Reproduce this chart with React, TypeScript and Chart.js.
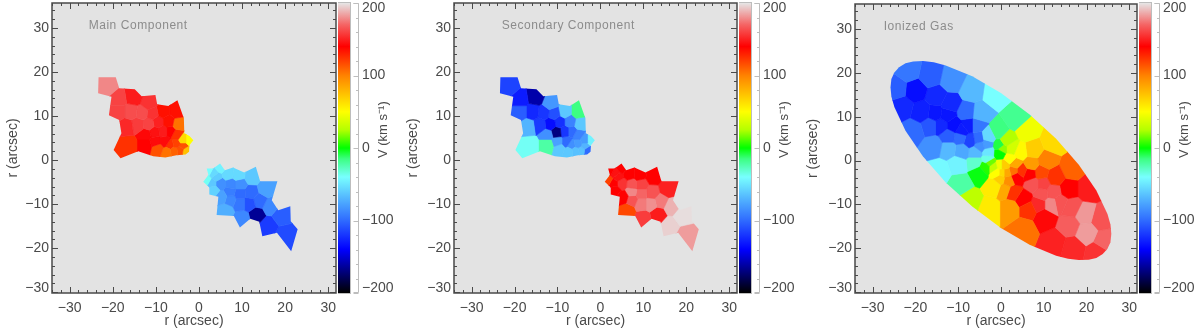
import React, { useEffect, useRef } from "react";
import { Chart, registerables } from "chart.js";

Chart.register(...registerables);

const FONT = "'Liberation Sans', Arial, sans-serif";
const INK = "#4a4a4a";

// Tessellation bins shared by the two stellar components: centres (arcsec) and velocities (km/s)
const stellarBinX = [-21.3,-18.8,-15.1,-11.6,-18.8,-15.7,-13.2,-10.8,-8.3,-5.2,-16.8,-14.1,-11.6,-9.5,-7.1,-4.8,-16.4,-12.4,-12.4,-10.2,-8.3,-6.7,-10,-7.9,-5.2,-3.7,-2.3,-5.2,-3.7,-9.5,-7.4,-5.7,-4.4,-3,-6.7,
  4.9,2.2,3.5,1.8,6.7,9.1,12.2,4.1,3.3,3,4.9,7.4,9.5,15.6,5.3,7.2,9.5,12,7.3,9.5,11.7,14,16.5,6.3,9.9,13.4,19,16.1,20];
const stellarBinY = [16.7,13.7,14.3,12.9,11,11,10.7,10.5,11,11,7.6,8,8.2,8.6,8.7,8.2,3.4,3.4,5.7,6.3,6.5,6.5,4.2,4.2,5.7,4.6,4.6,3.7,3.2,2.7,1.9,2.1,2.3,2.1,3.4,
  -1.7,-2.3,-3,-4.6,-3.2,-3.4,-3.8,-3.8,-6.8,-5.3,-5.3,-5.5,-5.5,-6.5,-8.4,-7.2,-7.6,-7.4,-9,-9.9,-9.9,-9.3,-10.5,-11.3,-13.1,-12.3,-12.6,-14.8,-17.1];
const mainV = [178,160,148,155,160,163,163,155,135,135,152,158,160,150,135,105,125,140,142,145,148,140,143,143,125,65,50,120,115,115,105,110,115,75,125,
  -45,-40,-55,-38,-55,-55,-62,-60,-58,-62,-85,-88,-85,-78,-78,-92,-100,-100,-88,-95,-110,-100,-88,-72,-88,-165,-105,-118,-112];
const secondaryV = [-115,-130,-160,-82,-105,-125,-120,-110,-62,-15,-70,-118,-135,-122,-90,-62,-38,-22,-85,-170,-120,-100,-78,-100,-90,-80,-45,-80,-70,-62,-62,-65,-65,-100,-85,
  140,140,145,120,140,140,140,145,140,140,155,165,160,150,140,178,170,165,165,175,180,175,188,118,158,148,198,195,183];

// Outline of the two stellar regions
const nwOutlineX = [-23.3,-19.3,-18.5,-14.9,-13.3,-10.1,-9.7,-7.1,-5,-3.5,-3.4,-2.2,-1.3,-2.2,-2.3,-3.1,-5.2,-7.8,-10.6,-14.1,-18.2,-19.8,-18,-18.5,-20.9,-20.3,-23.4];
const nwOutlineY = [18.8,18.8,16.3,16.1,14.5,14.8,12.7,12.3,13.6,9.5,6.1,5.5,4.5,3.4,1.9,1.3,1.1,0.6,0.9,2,0.4,2.3,6.1,9.1,10.2,14.4,15.2];
const seOutlineX = [1.8,3.3,4.9,6,7.9,10.5,13.2,14.2,18.2,16.9,18.4,21.2,21.3,22.9,21.4,18.1,14.7,14,11.9,9.5,8.1,4.1,4.5,2.4,2.4,1,2.2];
const seOutlineY = [-1.9,-1.9,-0.8,-2.3,-1.7,-2.8,-1.5,-4.8,-4.8,-9.1,-11.4,-10.5,-13.9,-15.7,-20.7,-16.5,-17.3,-14,-13.3,-15.3,-12.7,-12.5,-8.3,-7.8,-6.2,-4.9,-3.4];

// Ionized gas bins
const gasBinX = [-21.6,-16.5,-11.5,-6.8,-1.4,-24.4,-20,-15,-11.9,-23.1,-18.4,-15.3,-12.6,-8,-4.9,-2.9,-20.4,-16.5,-14,-11.1,-9.1,-7.6,-5.7,-12.2,-9.5,-7.2,-5.3,-4.9,-3.3,-15.7,-12.2,-9.1,-6,-2.9,
  -14.2,-10.1,-6,-3,-9.5,-5,-3.7,-2.6,-1.8,
  3.6,-0.6,1.3,-0.4,-0.4,0.15,2.5,6,12.2,4.4,7.5,2.1,10.6,7.1,3.3,0.9,-0.2,-1,0.2,1.3,2.9,-0.2,1.7,-1.4,0.9,
  -7.2,-2.6,2.1,5.2,6.4,4.8,3.6,6.7,9.3,12.6,16.4,2.9,5.3,7.5,9.8,9.5,12.2,15.7,20.3,8.7,11.8,13.7,16.5,10.2,16,19.5,19.9,23.4,24.2,22.6,12.6,16.8];
const gasBinY = [20.5,19.4,18.3,16,15.2,16.4,16,14.5,12.9,12.2,11,10.7,10.3,11,10.7,5.3,6.8,8,8,8,6.8,8,8,5.7,5.3,4.6,4.9,3.4,3.8,3.4,2.7,2.3,1.9,1.9,
  -2.3,-0.8,-0.4,0.3,-5.3,-2.7,-1.5,-0.4,-1.5,
  9.5,6.5,4.6,3.4,1.7,2.7,2.7,6.8,4.2,1.9,2.3,0.4,0,-0.8,-0.8,-1.1,-1.1,-2.7,-2.7,-2.7,-2.3,-4.2,-4.6,-5.7,-6.5,
  -9.1,-11,-11,-15.6,-11,-2.3,-3.8,-3.1,-2.8,-3.8,-1.9,-7.2,-8.8,-5.3,-5.3,-7.6,-7.2,-6.5,-6.5,-9.9,-9.9,-9.5,-10.7,-12.9,-14.8,-12.2,-16.4,-13.3,-18.3,-21,-18.6,-19.8];
const gasV = [-95,-105,-85,-68,-40,-105,-135,-125,-125,-125,-128,-132,-132,-100,-70,-55,-100,-108,-125,-135,-130,-130,-95,-105,-100,-115,-100,-85,-80,-85,-68,-75,-68,-50,
  -42,-45,-30,-35,-22,-2,5,15,30,
  -18,-15,25,-8,0,20,35,45,65,52,70,50,100,90,85,70,45,50,65,85,105,70,95,58,85,
  28,58,90,105,125,125,140,140,118,125,110,125,140,165,160,165,165,140,148,152,178,165,165,142,168,182,183,165,170,155,150,152];

const gasOutlineX = [25.8,25.6,24.9,23.8,22.3,20.5,18.2,15.7,12.9,6.7,0,-6.7,-12.9,-18.2,-22.3,-24.9,-25.6,-25.8,-25.6,-24.9,-23.8,-22.3,-20.5,-18.2,-15.7,-12.9,-6.7,0,6.7,12.9,18.2,22.3,24.9,25.6];
const gasOutlineY = [-16.7,-18.6,-20.1,-21.3,-22.2,-22.6,-22.7,-22.4,-21.7,-19.2,-15.4,-10.5,-5,0.95,6.8,12.2,14.6,16.7,18.6,20.1,21.3,22.2,22.6,22.7,22.4,21.7,19.2,15.4,10.5,5,-0.95,-6.8,-12.2,-14.6];

// Isolated bright specks in the gas map
const gasSpeckX = [-18.3,3.1,15];
const gasSpeckY = [21.4,-16.7,-20.6];
const gasSpeckV = [10,60,50];

// Colour bar stops: velocity and colour
const barLevels = [-200,-140,-100,-70,-40,-15,0,25,50,100,140,170,200];
const barColours = ["#000000","#0000ff","#2f6bff","#52b4ff","#78ffff","#3cff82","#00ff00","#b4ff00","#ffff00","#ff8200","#ff0000","#f56464","#e6e6e6"];

const xTicks = [-30,-20,-10,0,10,20,30];
const barTicks = [-200,-100,0,100,200];

const X_MIN = -34.1, X_MAX = 31.8, Y_MIN = -30.2, Y_MAX = 35.7;
const BACKDROP = "#e3e3e3";

type Poly = { x: number; y: number }[];

function hexToRgb(h: string) {
  return [1, 3, 5].map((i) => parseInt(h.slice(i, i + 2), 16));
}
function colourFor(v: number) {
  let i = 0;
  while (i < barLevels.length - 2 && v > barLevels[i + 1]) i++;
  const t = Math.max(0, Math.min(1, (v - barLevels[i]) / (barLevels[i + 1] - barLevels[i])));
  const a = hexToRgb(barColours[i]), b = hexToRgb(barColours[i + 1]);
  const c = a.map((p, k) => Math.round(p + (b[k] - p) * t));
  return `rgb(${c[0]},${c[1]},${c[2]})`;
}
function cellPolygon(i: number, xs: number[], ys: number[]): Poly {
  let poly: Poly = [
    { x: X_MIN, y: Y_MIN }, { x: X_MAX, y: Y_MIN }, { x: X_MAX, y: Y_MAX }, { x: X_MIN, y: Y_MAX },
  ];
  for (let j = 0; j < xs.length; j++) {
    if (j === i) continue;
    const nx = xs[j] - xs[i], ny = ys[j] - ys[i];
    const mx = (xs[j] + xs[i]) / 2, my = (ys[j] + ys[i]) / 2;
    const side = (p: { x: number; y: number }) => (p.x - mx) * nx + (p.y - my) * ny;
    const out: Poly = [];
    for (let k = 0; k < poly.length; k++) {
      const p = poly[k], q = poly[(k + 1) % poly.length];
      const sp = side(p), sq = side(q);
      if (sp <= 0) out.push(p);
      if ((sp < 0 && sq > 0) || (sp > 0 && sq < 0)) {
        const t = sp / (sp - sq);
        out.push({ x: p.x + (q.x - p.x) * t, y: p.y + (q.y - p.y) * t });
      }
    }
    poly = out;
    if (!poly.length) break;
  }
  if (poly.length) poly.push(poly[0]);
  return poly;
}

const mapDecor = {
  id: "mapDecor",
  beforeDatasetsDraw(chart: any, _a: any, o: any) {
    const { ctx, chartArea: A, scales } = chart;
    ctx.save();
    ctx.fillStyle = BACKDROP;
    ctx.fillRect(A.left, A.top, A.right - A.left, A.bottom - A.top);
    ctx.beginPath();
    for (const out of o.outlines as number[][][]) {
      out[0].forEach((x, i) => {
        const px = scales.x.getPixelForValue(x), py = scales.y.getPixelForValue(out[1][i]);
        if (i) ctx.lineTo(px, py); else ctx.moveTo(px, py);
      });
      ctx.closePath();
    }
    ctx.clip();
  },
  afterDatasetsDraw(chart: any, _a: any, o: any) {
    const { ctx, chartArea: A, scales } = chart;
    ctx.restore();
    ctx.save();
    ctx.strokeStyle = INK;
    ctx.lineWidth = 1;
    ctx.beginPath();
    for (let v = -34; v <= 31; v += 2) {
      const p = Math.round(scales.x.getPixelForValue(v)) + 0.5;
      const len = v % 10 === 0 ? 6 : 3;
      ctx.moveTo(p, A.bottom); ctx.lineTo(p, A.bottom - len);
      ctx.moveTo(p, A.top); ctx.lineTo(p, A.top + len);
    }
    for (let v = -30; v <= 35; v += 2) {
      const p = Math.round(scales.y.getPixelForValue(v)) + 0.5;
      const len = v % 10 === 0 ? 6 : 3;
      ctx.moveTo(A.left, p); ctx.lineTo(A.left + len, p);
      ctx.moveTo(A.right, p); ctx.lineTo(A.right - len, p);
    }
    ctx.stroke();
    ctx.lineWidth = 1.5;
    ctx.strokeRect(A.left, A.top, A.right - A.left, A.bottom - A.top);
    ctx.fillStyle = "#8c8c8c";
    ctx.font = `12px ${FONT}`;
    (ctx as any).letterSpacing = "0.55px";
    ctx.textBaseline = "middle";
    ctx.textAlign = "left";
    ctx.fillText(o.label, scales.x.getPixelForValue(o.labelX), scales.y.getPixelForValue(30.6));
    ctx.restore();
  },
};

const barDecor = {
  id: "barDecor",
  afterDraw(chart: any) {
    const { ctx, chartArea: A, scales } = chart;
    const ax = A.right + 8.5;
    ctx.save();
    ctx.strokeStyle = "#bdbdbd";
    ctx.lineWidth = 1;
    ctx.strokeRect(A.left - 0.5, A.top - 0.5, A.right - A.left + 1, A.bottom - A.top + 1);
    ctx.beginPath();
    ctx.moveTo(ax - 5, A.top + 0.5); ctx.lineTo(ax, A.top + 0.5); ctx.lineTo(ax, A.bottom - 0.5); ctx.lineTo(ax - 5, A.bottom - 0.5);
    for (let v = -200; v <= 200; v += 20) {
      const p = Math.round(scales.y.getPixelForValue(v)) + 0.5;
      ctx.moveTo(ax, p); ctx.lineTo(ax - (v % 100 === 0 ? 5 : 2.5), p);
    }
    ctx.stroke();
    ctx.translate(A.right + 33, 158);
    ctx.rotate(-Math.PI / 2);
    ctx.fillStyle = INK;
    ctx.font = `13px ${FONT}`;
    ctx.textAlign = "left";
    ctx.textBaseline = "middle";
    ctx.fillText("V (km s\u207B\u00B9)", 0, 0);
    ctx.restore();
  },
};

const minus = (v: number) => String(v).replace("-", "\u2212");
const noPad = (s: any) => { s.paddingLeft = s.paddingRight = s.paddingTop = s.paddingBottom = 0; };

function MapPanel(props: { left: number; width: number; label: string; labelX: number; xs: number[]; ys: number[]; vs: number[]; outlines: number[][][]; specks?: number[][] }) {
  const ref = useRef<HTMLCanvasElement>(null);
  useEffect(() => {
    const { xs, ys, vs, specks } = props;
    const datasets: any[] = xs.map((_, i) => ({
      data: cellPolygon(i, xs, ys),
      showLine: true,
      fill: "shape",
      tension: 0,
      pointRadius: 0,
      borderWidth: 0.6,
      borderColor: colourFor(vs[i]),
      backgroundColor: colourFor(vs[i]),
    }));
    if (specks) {
      datasets.push({
        data: specks[0].map((x, i) => ({ x, y: specks[1][i] })),
        showLine: false,
        pointRadius: 0.8,
        pointBorderWidth: 0,
        pointBackgroundColor: specks[2].map(colourFor),
      });
    }
    const chart = new Chart(ref.current!, {
      type: "scatter",
      data: { datasets: datasets as any },
      plugins: [mapDecor as any],
      options: {
        animation: false,
        responsive: false,
        events: [],
        layout: { padding: { top: 3, right: 4, left: 0, bottom: 0 } },
        plugins: {
          legend: { display: false },
          tooltip: { enabled: false },
          mapDecor: { outlines: props.outlines, label: props.label, labelX: props.labelX },
        } as any,
        scales: {
          x: {
            type: "linear", min: X_MIN, max: X_MAX,
            grid: { display: false, drawTicks: false }, border: { display: false },
            afterFit: (s: any) => { s.height = 37; noPad(s); },
            afterBuildTicks: (s: any) => { s.ticks = xTicks.map((value) => ({ value })); },
            ticks: { autoSkip: false, maxRotation: 0, padding: 7, color: INK, font: { family: FONT, size: 14 }, callback: (v: any) => minus(v) },
            title: { display: true, text: "r (arcsec)", color: INK, font: { family: FONT, size: 14 }, padding: { top: 0, bottom: 0 } },
          },
          y: {
            type: "linear", min: Y_MIN, max: Y_MAX,
            grid: { display: false, drawTicks: false }, border: { display: false },
            afterFit: (s: any) => { s.width = props.left; noPad(s); },
            afterBuildTicks: (s: any) => { s.ticks = xTicks.map((value) => ({ value })); },
            ticks: { autoSkip: false, padding: 3, color: INK, font: { family: FONT, size: 14, lineHeight: 0.5 }, callback: (v: any) => (v === -30 ? [minus(v), ""] : minus(v)) },
            title: { display: true, text: "r (arcsec)", color: INK, font: { family: FONT, size: 14 }, padding: { top: 5, bottom: 0 } },
          },
        },
      } as any,
    });
    return () => chart.destroy();
  }, []);
  return <canvas ref={ref} width={props.left + props.width + 4} height={330} style={{ display: "block", position: "absolute", left: 0, top: 0 }} />;
}

function ColourBar(props: { left: number }) {
  const ref = useRef<HTMLCanvasElement>(null);
  useEffect(() => {
    const chart = new Chart(ref.current!, {
      type: "bar",
      data: {
        labels: ["V"],
        datasets: [{
          data: [[barLevels[0], barLevels[barLevels.length - 1]]] as any,
          categoryPercentage: 1, barPercentage: 1, borderWidth: 0,
          backgroundColor: (c: any) => {
            const { ctx, chartArea: A, scales } = c.chart;
            if (!A) return "#000";
            const g = ctx.createLinearGradient(0, A.bottom, 0, A.top);
            barLevels.forEach((v, i) => g.addColorStop((scales.y.getPixelForValue(v) - A.bottom) / (A.top - A.bottom), barColours[i]));
            return g;
          },
        }],
      },
      plugins: [barDecor as any],
      options: {
        animation: false,
        responsive: false,
        events: [],
        layout: { padding: { top: 3, bottom: 37, left: 0, right: 0 } },
        plugins: { legend: { display: false }, tooltip: { enabled: false } },
        scales: {
          x: { display: false },
          y: {
            position: "right", type: "linear", min: -200, max: 200,
            grid: { display: false, drawTicks: false }, border: { display: false },
            afterFit: (s: any) => { s.width = 50; noPad(s); },
            afterBuildTicks: (s: any) => { s.ticks = barTicks.map((value) => ({ value })); },
            ticks: {
              autoSkip: false, padding: 12, color: INK, font: { family: FONT, size: 14, lineHeight: 0.72 },
              callback: (v: any) => (v === 200 ? ["", "200"] : v === -200 ? ["\u2212200", ""] : minus(v)),
            },
          },
        },
      } as any,
    });
    return () => chart.destroy();
  }, []);
  return <canvas ref={ref} width={62} height={330} style={{ display: "block", position: "absolute", left: props.left, top: 0 }} />;
}

function Panel(props: any) {
  return (
    <div style={{ position: "absolute", left: props.offset, top: 0, width: 400, height: 330 }}>
      <MapPanel left={props.left} width={props.width} label={props.label} labelX={props.labelX} xs={props.xs} ys={props.ys} vs={props.vs} outlines={props.outlines} specks={props.specks} />
      <ColourBar left={props.left + props.width + 2} />
    </div>
  );
}

export default function App() {
  useEffect(() => {
    document.body.style.margin = "0";
    document.body.style.background = "#fff";
  }, []);
  const stellar = [[nwOutlineX, nwOutlineY], [seOutlineX, seOutlineY]];
  return (
    <div style={{ position: "relative", width: 1200, height: 330, overflow: "hidden", filter: "blur(0.35px)" }}>
      <Panel offset={0} left={52} width={284} label="Main Component" labelX={-25.6} xs={stellarBinX} ys={stellarBinY} vs={mainV} outlines={stellar} />
      <Panel offset={400} left={54} width={283} label="Secondary Component" labelX={-23} xs={stellarBinX} ys={stellarBinY} vs={secondaryV} outlines={stellar} />
      <Panel offset={800} left={55} width={282} label="Ionized Gas" labelX={-27.4} xs={gasBinX} ys={gasBinY} vs={gasV} outlines={[[gasOutlineX, gasOutlineY]]} specks={[gasSpeckX, gasSpeckY, gasSpeckV]} />
    </div>
  );
}
